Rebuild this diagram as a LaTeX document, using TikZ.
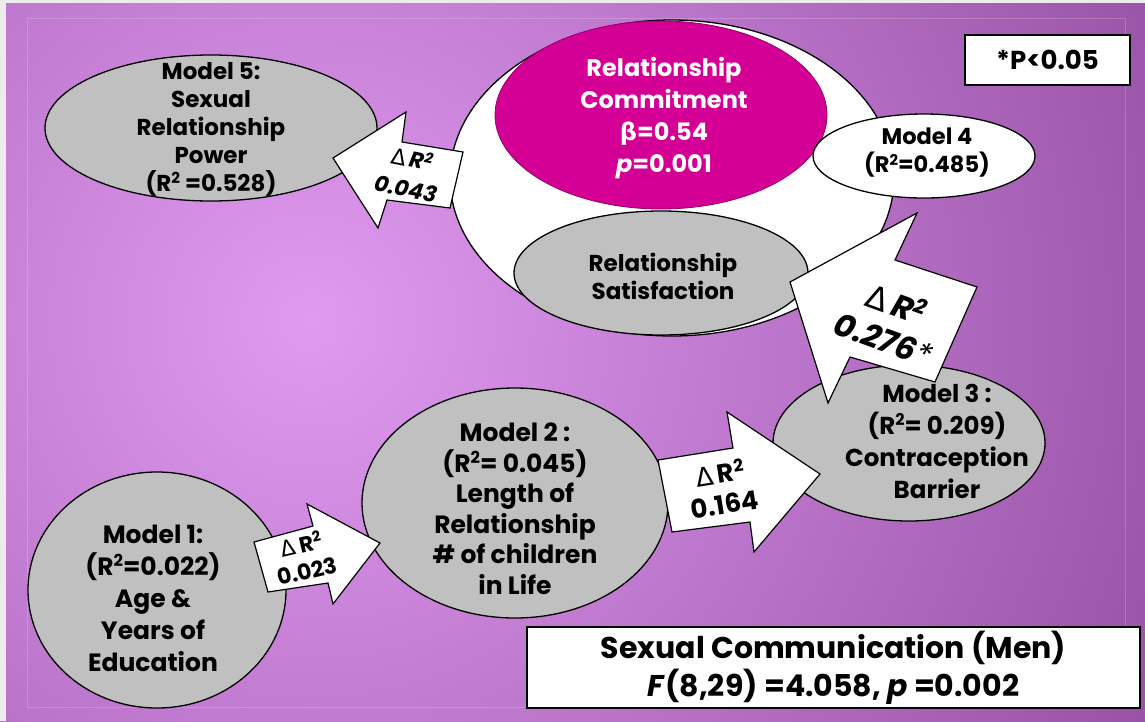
\documentclass[tikz,border=0pt]{standalone}
\usepackage{fontspec}
\setmainfont{Poppins}
\newfontfamily\symfont{DejaVu Sans}
\usetikzlibrary{shapes.geometric}

\definecolor{bgin}{RGB}{224,154,240}
\definecolor{bgout}{RGB}{146,76,160}
\definecolor{commit}{RGB}{212,0,150}
\definecolor{ovalgray}{RGB}{192,192,192}

\newcommand{\sqr}{\raisebox{.62ex}{\scalebox{.66}{2}}}
\newcommand{\dR}{{\symfont\mdseries\upshape Δ}\,R\sqr}

\begin{document}
\begin{tikzpicture}[x=1pt,y=-1pt,
    oval/.style={ellipse,draw=black,line width=1.3pt,fill=ovalgray,inner sep=0pt},
    txt/.style={align=center,inner sep=0pt,font=\bfseries\fontsize{23}{28}\selectfont},
    deltaarrow/.style={draw=black,line width=1.2pt,fill=white,line join=miter},
    notebox/.style={draw=black,line width=1.2pt,fill=white,inner sep=0pt,align=center}]
    \useasboundingbox (0,0) rectangle (1145,721);
    %background
    \begin{scope}
        \clip (0,0) rectangle (1145,721);
        \shade[inner color=bgin,outer color=bgout] (310,320) circle (1000);
        \fill[gray!15] (0,0) rectangle (6,721);
        \fill[gray!15] (0,0) rectangle (1145,3);
    \end{scope}
    \draw[white,opacity=.2,line width=1pt] (27,18) rectangle (1125,707);

    %model 4 block
    \node[oval,fill=white,minimum width=444,minimum height=316] (block) at (672,178) {};
    \node[oval,fill=commit,draw=commit!70!black,line width=.8pt,minimum width=332,minimum height=188] (commit) at (661,115) {};
    \node[txt,text=white,font=\bfseries\fontsize{24}{32}\selectfont] (commit text) at (664,118)
        {Relationship\\Commitment\\{\symfont\bfseries β}=0.54\\\textit{p}=0.001};
    \node[oval,minimum width=294,minimum height=124] (satis) at (661,273) {};
    \node[txt,font=\bfseries\fontsize{23}{28}\selectfont] (satis text) at (663,276) {Relationship\\Satisfaction};
    \node[oval,fill=white,minimum width=222,minimum height=84] (m4) at (924,156) {};
    \node[txt,font=\bfseries\fontsize{22.5}{28}\selectfont] (m4 text) at (927,153) {Model 4\\(R\sqr=0.485)};

    %other models
    \node[oval,minimum width=332,minimum height=146] (m5) at (211,128) {};
    \node[txt] (m5 text) at (211,129) {Model 5:\\Sexual\\Relationship\\Power\\(R\sqr\ =0.528)};
    \node[oval,minimum width=258,minimum height=236] (m1) at (157,590) {};
    \node[txt,font=\bfseries\fontsize{25}{32}\selectfont] (m1 text) at (153,598) {Model 1:\\(R\sqr=0.022)\\Age \&\\Years of\\Education};
    \node[oval,minimum width=306,minimum height=230] (m2) at (515,503) {};
    \node[txt,font=\bfseries\fontsize{25}{30.5}\selectfont] (m2 text) at (515,509) {Model 2 :\\(R\sqr= 0.045)\\Length of\\Relationship\\\# of children\\in Life};
    \node[oval,minimum width=272,minimum height=156] (m3) at (909,443) {};
    \node[txt,font=\bfseries\fontsize{24.5}{32}\selectfont] (m3 text) at (937,441) {Model 3 :\\(R\sqr= 0.209)\\Contraception\\Barrier};

    %delta R2 arrows
    \coordinate (a1) at (254,542);
    \coordinate (a2) at (313,526);
    \coordinate (a3) at (307,504);
    \coordinate (a4) at (380,543);
    \coordinate (a5) at (333,604);
    \coordinate (a6) at (328,583);
    \coordinate (a7) at (268,592);
    \draw[deltaarrow] (a1) -- (a2) -- (a3) -- (a4) -- (a5) -- (a6) -- (a7) -- cycle;
    \node[txt,font=\bfseries\fontsize{22}{27}\selectfont,rotate=13] (d1 text) at (304,557) {\dR\\0.023};
    \coordinate (b1) at (658,460);
    \coordinate (b2) at (733,448);
    \coordinate (b3) at (727,412);
    \coordinate (b4) at (820,474);
    \coordinate (b5) at (754,552);
    \coordinate (b6) at (750,522);
    \coordinate (b7) at (672,532);
    \draw[deltaarrow] (b1) -- (b2) -- (b3) -- (b4) -- (b5) -- (b6) -- (b7) -- cycle;
    \node[txt,font=\bfseries\fontsize{26}{31}\selectfont,rotate=9] (d2 text) at (722,488) {\dR\\0.164};
    \coordinate (c1) at (333,158);
    \coordinate (c2) at (406,112);
    \coordinate (c3) at (402,142);
    \coordinate (c4) at (463,152);
    \coordinate (c5) at (450,208);
    \coordinate (c6) at (387,200);
    \coordinate (c7) at (378,228);
    \draw[deltaarrow] (c1) -- (c2) -- (c3) -- (c4) -- (c5) -- (c6) -- (c7) -- cycle;
    \node[txt,font=\bfseries\itshape\fontsize{22}{30}\selectfont,rotate=-11] (d5 text) at (409,173) {\dR\\0.043};
    \coordinate (p1) at (917,213);
    \coordinate (p2) at (895,260);
    \coordinate (p3) at (977,287);
    \coordinate (p4) at (935,382);
    \coordinate (p5) at (850,357);
    \coordinate (p6) at (828,403);
    \coordinate (p7) at (790,282);
    \draw[deltaarrow] (p1) -- (p2) -- (p3) -- (p4) -- (p5) -- (p6) -- (p7) -- cycle;
    \node[txt,font=\bfseries\itshape\fontsize{32}{37}\selectfont,rotate=-20] (d4 text) at (890,321) {\dR\\0.276{\mdseries*}};

    %notes
    \node[notebox,minimum width=165,minimum height=50,font=\bfseries\fontsize{26}{30}\selectfont] (sig) at (1047.5,60) {*P<0.05};
    \node[notebox,minimum width=613,minimum height=81,font=\bfseries\fontsize{30}{38}\selectfont] (result) at (833.5,667.5)
        {Sexual Communication (Men)\\\textit{F}(8,29) =4.058, \textit{p} =0.002};
\end{tikzpicture}
\end{document}
